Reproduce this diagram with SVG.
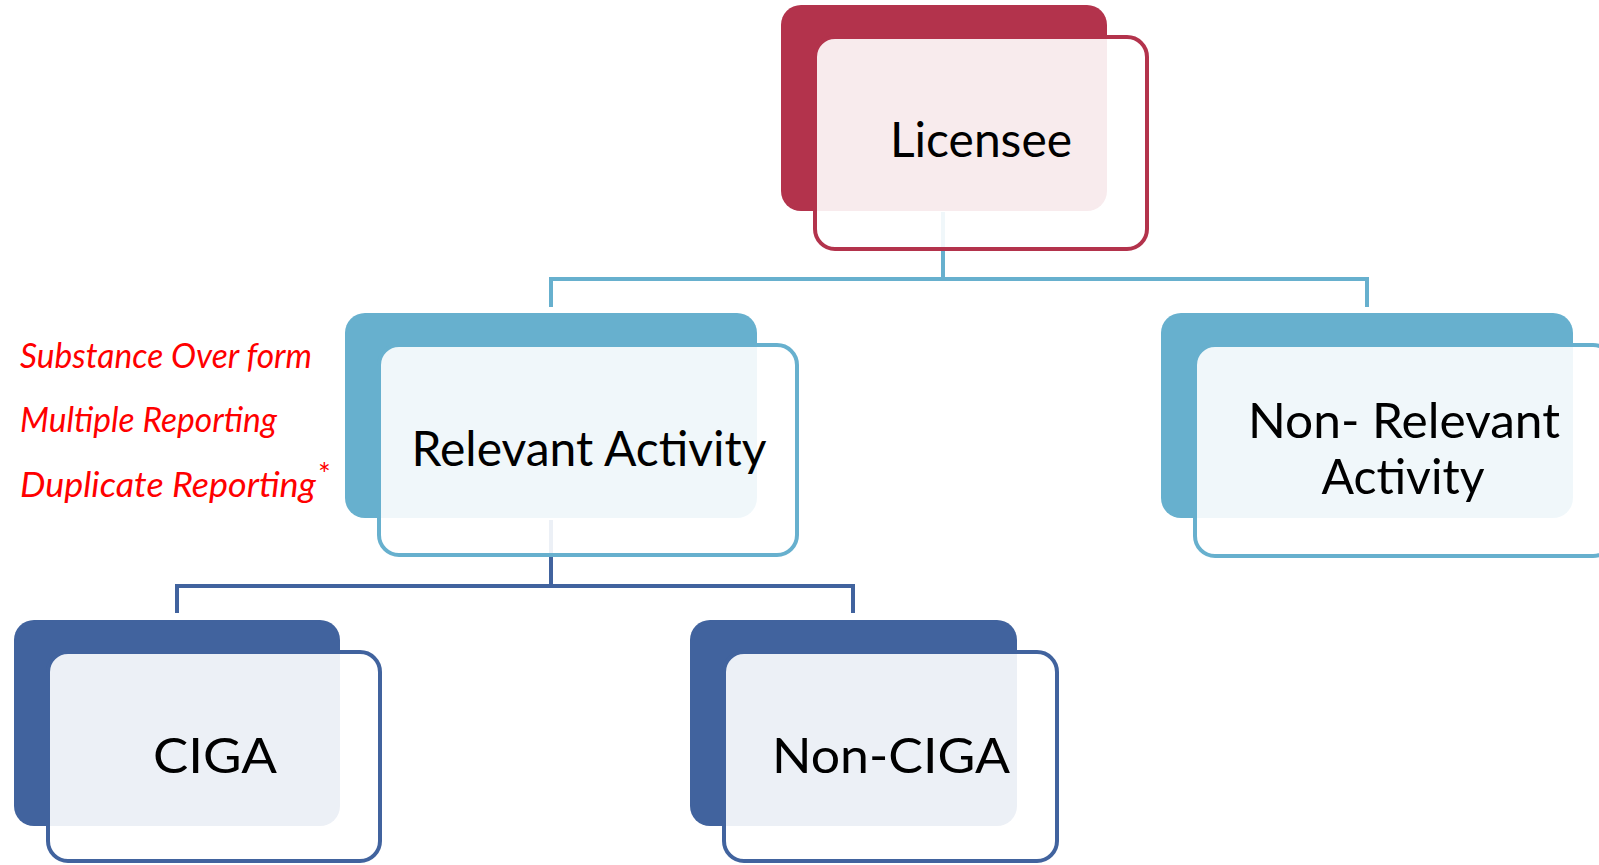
<svg xmlns="http://www.w3.org/2000/svg" width="1599" height="865" viewBox="0 0 1599 865">
<style>
.lbl{font-family:Lato,"Open Sans","Liberation Sans",sans-serif;font-size:48px;fill:#000;text-anchor:middle}
.note{font-family:Lato,"Open Sans","Liberation Sans",sans-serif;font-style:italic;font-size:34px;fill:#FF0000}
.front{fill:#fff;fill-opacity:0.9;stroke-width:4}
.red .back{fill:#B3334C}.red .front{stroke:#B3334C}
.lb .back{fill:#67B0CE}.lb .front{stroke:#67B0CE}
.db .back{fill:#41639E}.db .front{stroke:#41639E}
.conn{fill:none;stroke-width:4}
</style>
<rect width="1599" height="865" fill="#fff"/>
<g id="connectors">
<path class="conn" stroke="#67B0CE" d="M943,212 V279 M551,307 V279 H1367 V307"/>
<path class="conn" stroke="#41639E" d="M551,520 V586 M177,613 V586 H853 V613"/>
</g>
<g id="licensee" class="red">
<rect class="back" x="781" y="5" width="326" height="206" rx="20"/>
<rect class="front" x="815" y="37" width="332" height="212" rx="20"/>
<text class="lbl" x="981" y="157" textLength="182" lengthAdjust="spacingAndGlyphs">Licensee</text>
</g>
<g id="relevant" class="lb">
<rect class="back" x="345" y="313" width="412" height="205" rx="20"/>
<rect class="front" x="379" y="345" width="418" height="210" rx="20"/>
<text class="lbl" x="589" y="466" textLength="355" lengthAdjust="spacingAndGlyphs">Relevant Activity</text>
</g>
<g id="nonrelevant" class="lb">
<rect class="back" x="1161" y="313" width="412" height="205" rx="20"/>
<rect class="front" x="1195" y="345" width="418" height="211" rx="20"/>
<text class="lbl" x="1404" y="438" textLength="312" lengthAdjust="spacingAndGlyphs">Non- Relevant</text>
<text class="lbl" x="1403" y="494" textLength="163" lengthAdjust="spacingAndGlyphs">Activity</text>
</g>
<g id="ciga" class="db">
<rect class="back" x="14" y="620" width="326" height="206" rx="20"/>
<rect class="front" x="48" y="652" width="332" height="209" rx="20"/>
<text class="lbl" x="215" y="773" textLength="124" lengthAdjust="spacingAndGlyphs">CIGA</text>
</g>
<g id="nonciga" class="db">
<rect class="back" x="690" y="620" width="327" height="206" rx="20"/>
<rect class="front" x="724" y="652" width="333" height="209" rx="20"/>
<text class="lbl" x="891" y="773" textLength="238" lengthAdjust="spacingAndGlyphs">Non-CIGA</text>
</g>
<g id="notes">
<text class="note" x="20" y="368" textLength="292" lengthAdjust="spacingAndGlyphs">Substance Over form</text>
<text class="note" x="20" y="432" textLength="257" lengthAdjust="spacingAndGlyphs">Multiple Reporting</text>
<text class="note" x="20" y="497"><tspan textLength="296" lengthAdjust="spacingAndGlyphs">Duplicate Reporting</tspan><tspan dx="2" dy="-12" font-size="30" font-style="normal">*</tspan></text>
</g>
</svg>
